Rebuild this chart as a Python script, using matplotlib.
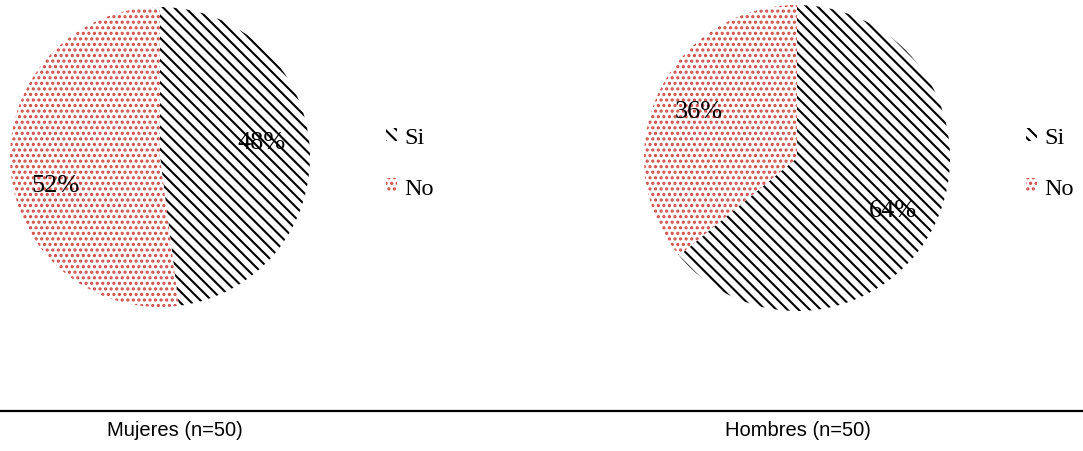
import matplotlib
matplotlib.use('Agg')
import matplotlib.pyplot as plt
from matplotlib.lines import Line2D
from matplotlib import rcParams

rcParams['hatch.linewidth'] = 1.5

# Respuestas por sexo (%)
categorias = ['Si', 'No']
mujeres = [48, 52]
hombres = [64, 36]
titulos = ['Mujeres (n=50)', 'Hombres (n=50)']

hatches = ['\\\\\\', '...']
colores = ['black', '#d04a45']

fig = plt.figure(figsize=(10.83, 4.52), dpi=100)
W, H = 1083., 452.

# (centro x, centro y, radio) en pixeles
pies = [(160, 158, 150), (797, 159, 153)]
# posicion de las etiquetas de porcentaje (unidades del radio)
pct_pos = [[(0.68, 0.10), (-0.70, -0.19)],
           [(0.63, -0.34), (-0.64, 0.31)]]
leg_x = [386, 1026]
lab_x = [175, 798]

for datos, (cx, cy, r), pos, lx, tx, titulo in zip(
        [mujeres, hombres], pies, pct_pos, leg_x, lab_x, titulos):
    ax = fig.add_axes([(cx - r) / W, 1 - (cy + r) / H, 2 * r / W, 2 * r / H])
    wedges, texts, autotexts = ax.pie(
        datos, startangle=90, counterclock=False,
        autopct='%1.0f%%', pctdistance=0.71,
        wedgeprops=dict(facecolor='white', linewidth=0))
    for w, h, c in zip(wedges, hatches, colores):
        w.set_hatch(h)
        w.set_edgecolor(c)
    for t, p in zip(autotexts, pos):
        t.set_position(p)
        t.set_family('Liberation Serif')
        t.set_fontsize(19)
    ax.set_xlim(-1, 1)
    ax.set_ylim(-1, 1)
    ax.set_aspect('equal')

    leg = fig.legend(wedges, categorias, loc='center left',
                     bbox_to_anchor=(lx / W, 1 - 164 / H),
                     frameon=False, borderpad=0, borderaxespad=0,
                     handlelength=0.45, handleheight=0.45,
                     handletextpad=0.3, labelspacing=1.2,
                     prop={'family': 'Liberation Serif', 'size': 17.5})

    fig.text(tx / W, 1 - 431 / H, titulo, ha='center', va='center',
             family='Liberation Sans', fontsize=14.5)

# linea horizontal sobre los titulos
fig.add_artist(Line2D([0, 1], [1 - 412 / H, 1 - 412 / H],
                      transform=fig.transFigure, color='black', lw=1.6))

fig.savefig('out.png', dpi=100)
